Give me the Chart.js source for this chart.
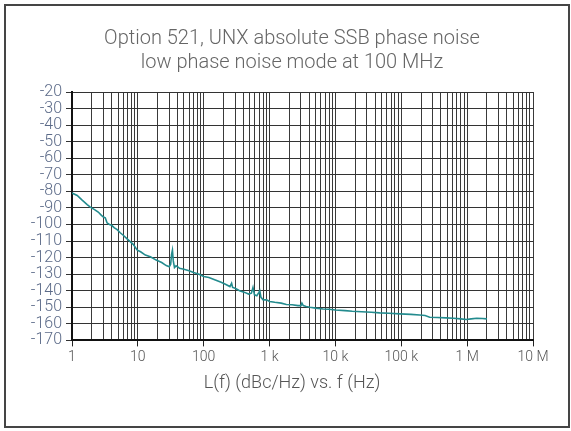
<!DOCTYPE html>
<html>
<head>
<meta charset="utf-8">
<script src="https://cdn.jsdelivr.net/npm/chart.js@4/dist/chart.umd.min.js"></script>
<style>
  html, body { margin: 0; padding: 0; background: #fff; }
  #frame { position: absolute; left: 4px; top: 4px; width: 566px; height: 424px; box-sizing: border-box; border: 2px solid #454545; }
  #wrap { position: absolute; left: 0; top: 0; width: 571px; height: 431px; }
</style>
</head>
<body>
<div id="frame"></div>
<div id="wrap"><canvas id="noise-chart"></canvas></div>
<script>
// offset frequency (Hz) and SSB phase noise (dBc/Hz)
const freqHz = [1, 1.2, 1.4, 1.7, 1.9, 2.2, 2.5, 2.8, 3.0, 3.2, 3.4, 3.7, 4.0, 4.4, 4.8, 5.4, 6.0, 6.8, 7.5, 8.5, 9.8,
  11, 13, 15.5, 19, 23, 27, 30, 31.5, 32.5, 33.5, 34.5, 36, 38, 40, 43, 50, 60, 70, 85, 100,
  120, 150, 180, 210, 250, 265, 275, 300, 350, 420, 480, 530, 560, 590, 640, 690, 710, 740, 800, 900, 1000,
  1200, 1500, 1800, 2200, 2700, 3000, 3100, 3250, 3600, 4100, 5000, 6500, 8000, 10000,
  14000, 18000, 25000, 35000, 47000, 65000, 95000, 140000, 190000, 230000, 270000, 350000, 480000, 620000, 800000, 970000,
  1150000, 1400000, 1700000, 2000000];
const noiseDbc = [-81, -82.5, -85, -88, -89.5, -91, -92.5, -94.5, -95.5, -96, -99, -100, -100.5, -102, -103, -105, -106.5, -108.5, -110, -112, -115.5,
  -116.5, -118.5, -119.5, -121.5, -123, -124.8, -125.5, -124, -118, -115.5, -122, -126, -125, -125.5, -126.5, -127, -128, -129, -130, -131.4,
  -132, -133.5, -134.8, -136, -137.5, -135.5, -138, -138.5, -140, -141, -142, -141.5, -138, -142.5, -143, -141, -140, -144, -145.5, -145.5, -146.5,
  -147, -147.5, -148.3, -148.5, -149, -149, -147.5, -149, -149.5, -150, -150.5, -151, -151.2, -151.6,
  -152, -152.4, -152.7, -153, -153.4, -153.6, -154, -154.3, -154.7, -155, -156, -156.2, -156.4, -156.6, -157, -157.4,
  -157, -156.6, -156.8, -157];

const xDecades = [1, 10, 100, 1e3, 1e4, 1e5, 1e6, 1e7];
const xTickLabels = ["1", "10", "100", "1 k", "10 k", "100 k", "1 M", "10 M"];
const yMin = -170, yMax = -20, yStep = 10;

const titleLines = ["Option 521, UNX absolute SSB phase noise", "low phase noise mode at 100 MHz"];
const axisTitle = "L(f) (dBc/Hz) vs. f (Hz)";

// grid at 1..9 x every decade, labels only on the decades
const xGridValues = [];
xDecades.forEach((d, i) => {
  if (i === xDecades.length - 1) { xGridValues.push(d); return; }
  for (let m = 1; m <= 9; m++) xGridValues.push(d * m);
});
const isDecade = (v) => xDecades.some((d) => Math.abs(d - v) < 1e-9 * d);

const ctx = document.getElementById("noise-chart").getContext("2d");

new Chart(ctx, {
  type: "line",
  data: {
    datasets: [{
      data: freqHz.map((f, i) => ({ x: f, y: noiseDbc[i] })),
      borderColor: "#238b8e",
      borderWidth: 1.6,
      pointRadius: 0,
      tension: 0,
      fill: false
    }]
  },
  options: {
    responsive: true,
    maintainAspectRatio: false,
    animation: false,
    // negative right padding moves the centred titles; the x axis keeps the plot edge
    layout: { padding: { left: 0, right: -13, top: 0, bottom: 0 } },
    plugins: {
      legend: { display: false },
      tooltip: { enabled: false },
      title: {
        display: true,
        text: titleLines,
        color: "#666",
        font: { family: "Roboto", size: 20, weight: 300, lineHeight: 1.2 },
        padding: { top: 27, bottom: 17 }
      },
      subtitle: {
        display: true,
        position: "bottom",
        text: axisTitle,
        color: "#555",
        font: { family: "Roboto", size: 18, weight: 300, lineHeight: 1.2 },
        padding: { top: 10, bottom: 37 }
      }
    },
    scales: {
      x: {
        type: "logarithmic",
        min: 1,
        max: 1e7,
        afterBuildTicks: (scale) => { scale.ticks = xGridValues.map((v) => ({ value: v })); },
        afterFit: (scale) => { scale.height = 22; scale.paddingRight = 38; },
        ticks: {
          autoSkip: false,
          maxRotation: 0,
          padding: 3,
          color: "#555",
          font: { family: "Roboto", size: 14, weight: 300 },
          callback: (value) => {
            const i = xDecades.findIndex((d) => Math.abs(d - value) < 1e-9 * d);
            return i >= 0 ? xTickLabels[i] : "";
          }
        },
        grid: {
          color: "#3a3a3a",
          lineWidth: 1,
          tickLength: 6,
          tickColor: (c) => (c.tick && isDecade(c.tick.value) ? "#222" : "rgba(0,0,0,0)")
        },
        border: { color: "#111", width: 2 }
      },
      y: {
        min: yMin,
        max: yMax,
        afterFit: (scale) => { scale.width = 72; },
        ticks: {
          stepSize: yStep,
          autoSkip: false,
          padding: 4,
          color: "#5b6a88",
          font: { family: "Roboto", size: 16, weight: 300 }
        },
        grid: { color: "#333", lineWidth: 1, tickLength: 6, tickColor: "#333" },
        border: { color: "#111", width: 2 }
      }
    }
  }
});
</script>
</body>
</html>
